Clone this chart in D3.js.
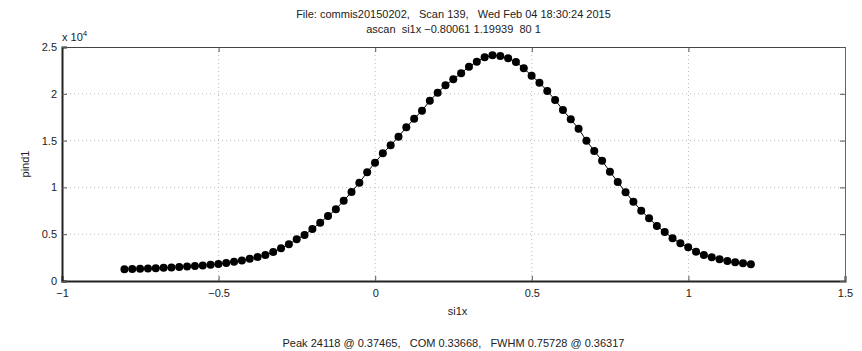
<!DOCTYPE html>
<html>
<head>
<meta charset="utf-8">
<script src="https://cdn.jsdelivr.net/npm/d3@7"></script>
<style>
  body { margin: 0; background: #fff; }
  text { font-family: "Liberation Sans", Arial, sans-serif; fill: #222; white-space: pre; }
</style>
</head>
<body>
<div id="chart"></div>
<script>
// scan positions (si1x) and detector counts (pind1)
const si1x = [
  -0.80061, -0.77561, -0.75061, -0.72561, -0.70061, -0.67561, -0.65061, -0.62561, -0.60061, -0.57561,
  -0.55061, -0.52561, -0.50061, -0.47561, -0.45061, -0.42561, -0.40061, -0.37561, -0.35061, -0.32561,
  -0.30061, -0.27561, -0.25061, -0.22561, -0.20061, -0.17561, -0.15061, -0.12561, -0.10061, -0.07561,
  -0.05061, -0.02561, -0.00061, 0.02439, 0.04939, 0.07439, 0.09939, 0.12439, 0.14939, 0.17439,
  0.19939, 0.22439, 0.24939, 0.27439, 0.29939, 0.32439, 0.34939, 0.37439, 0.39939, 0.42439,
  0.44939, 0.47439, 0.49939, 0.52439, 0.54939, 0.57439, 0.59939, 0.62439, 0.64939, 0.67439,
  0.69939, 0.72439, 0.74939, 0.77439, 0.79939, 0.82439, 0.84939, 0.87439, 0.89939, 0.92439,
  0.94939, 0.97439, 0.99939, 1.02439, 1.04939, 1.07439, 1.09939, 1.12439, 1.14939, 1.17439,
  1.19939
];
const pind1 = [
  1250, 1270, 1300, 1330, 1370, 1410, 1450, 1500, 1550, 1600,
  1660, 1730, 1820, 1920, 2050, 2200, 2370, 2560, 2780, 3110,
  3490, 3920, 4450, 4910, 5560, 6230, 6940, 7660, 8580, 9510,
  10500, 11620, 12640, 13640, 14490, 15420, 16420, 17340, 18200, 19260,
  20120, 20910, 21550, 22190, 22900, 23430, 23900, 24118, 24040, 23790,
  23400, 22720, 21940, 21190, 20300, 19340, 18270, 17270, 16270, 14990,
  13900, 12850, 11680, 10580, 9470, 8470, 7510, 6700, 5880, 5240,
  4560, 4030, 3600, 3130, 2780, 2530, 2320, 2140, 2000, 1890,
  1780
];
const xTicks = [-1, -0.5, 0, 0.5, 1, 1.5];
const yTicks = [0, 5000, 10000, 15000, 20000, 25000];
const yTickLabels = ["0", "0.5", "1", "1.5", "2", "2.5"];

const titleLines = [
  "File: commis20150202,   Scan 139,   Wed Feb 04 18:30:24 2015",
  "ascan  si1x \u22120.80061 1.19939  80 1"
];
const footer = "Peak 24118 @ 0.37465,   COM 0.33668,   FWHM 0.75728 @ 0.36317";

const W = 862, H = 351;
const margin = {top: 47, right: 17, bottom: 70, left: 62},
      width = W - margin.left - margin.right,
      height = H - margin.top - margin.bottom;

const svgRoot = d3.select("#chart").append("svg")
    .attr("width", W)
    .attr("height", H);

const svg = svgRoot.append("g")
    .attr("transform", `translate(${margin.left},${margin.top})`);

const x = d3.scaleLinear().domain([-1, 1.5]).range([0, width]);
const y = d3.scaleLinear().domain([0, 25000]).range([height, 0]);

const fmtX = d => (d < 0 ? "\u2212" : "") + Math.abs(d);

// dotted grid
svg.selectAll(".gx").data(xTicks.slice(1, -1)).join("line")
    .attr("x1", d => x(d)).attr("x2", d => x(d))
    .attr("y1", 0).attr("y2", height)
    .attr("stroke", "#bbb").attr("stroke-width", 1)
    .attr("stroke-dasharray", "1,3");
svg.selectAll(".gy").data(yTicks.slice(1, -1)).join("line")
    .attr("x1", 0).attr("x2", width)
    .attr("y1", d => y(d)).attr("y2", d => y(d))
    .attr("stroke", "#bbb").attr("stroke-width", 1)
    .attr("stroke-dasharray", "1,3");

// axes box with inward ticks on all sides
svg.append("g")
    .attr("transform", `translate(0,${height})`)
    .call(d3.axisBottom(x).tickValues(xTicks).tickSize(-5).tickPadding(8).tickFormat(fmtX))
    .call(g => g.select(".domain").attr("stroke", "#222").attr("stroke-width", 2));
svg.append("g")
    .call(d3.axisTop(x).tickValues(xTicks).tickSize(-5).tickFormat(""))
    .call(g => g.select(".domain").attr("stroke", "#444"));
svg.append("g")
    .call(d3.axisLeft(y).tickValues(yTicks).tickSize(-5).tickPadding(5)
        .tickFormat((d, i) => yTickLabels[i]))
    .call(g => g.select(".domain").attr("stroke", "#222").attr("stroke-width", 2));
svg.append("g")
    .attr("transform", `translate(${width},0)`)
    .call(d3.axisRight(y).tickValues(yTicks).tickSize(-5).tickFormat(""))
    .call(g => g.select(".domain").attr("stroke", "#666"));

svg.selectAll(".tick line").attr("stroke", "#555");
svg.selectAll(".tick text")
    .style("font-family", "'Liberation Sans', Arial, sans-serif")
    .style("font-size", "11px")
    .attr("fill", "#222");

// scan line and points
const pts = si1x.map((v, i) => ({x: v, y: pind1[i]}));
svg.append("path")
    .datum(pts)
    .attr("fill", "none")
    .attr("stroke", "#000")
    .attr("stroke-width", 1)
    .attr("d", d3.line().x(d => x(d.x)).y(d => y(d.y)));
svg.selectAll(".dot").data(pts).join("circle")
    .attr("class", "dot")
    .attr("cx", d => x(d.x))
    .attr("cy", d => y(d.y))
    .attr("r", 4)
    .attr("fill", "#000");

// exponent label
const expo = svg.append("text")
    .attr("x", 0).attr("y", -6)
    .style("font-size", "11px");
expo.append("tspan").text("x 10");
expo.append("tspan").attr("dy", -5).style("font-size", "8px").text("4");

// axis labels
svg.append("text")
    .attr("x", width / 2 + 4).attr("y", height + 34)
    .attr("text-anchor", "middle")
    .style("font-size", "11px")
    .text("si1x");
svg.append("text")
    .attr("transform", `translate(-33,${height / 2}) rotate(-90)`)
    .attr("text-anchor", "middle")
    .style("font-size", "11px")
    .text("pind1");

// title
svgRoot.selectAll(".title").data(titleLines).join("text")
    .attr("x", margin.left + width / 2)
    .attr("y", (d, i) => 18 + i * 15)
    .attr("text-anchor", "middle")
    .style("font-size", "11px")
    .text(d => d);

// footer
svgRoot.append("text")
    .attr("x", margin.left + width / 2)
    .attr("y", 347)
    .attr("text-anchor", "middle")
    .style("font-size", "11px")
    .text(footer);
</script>
</body>
</html>
